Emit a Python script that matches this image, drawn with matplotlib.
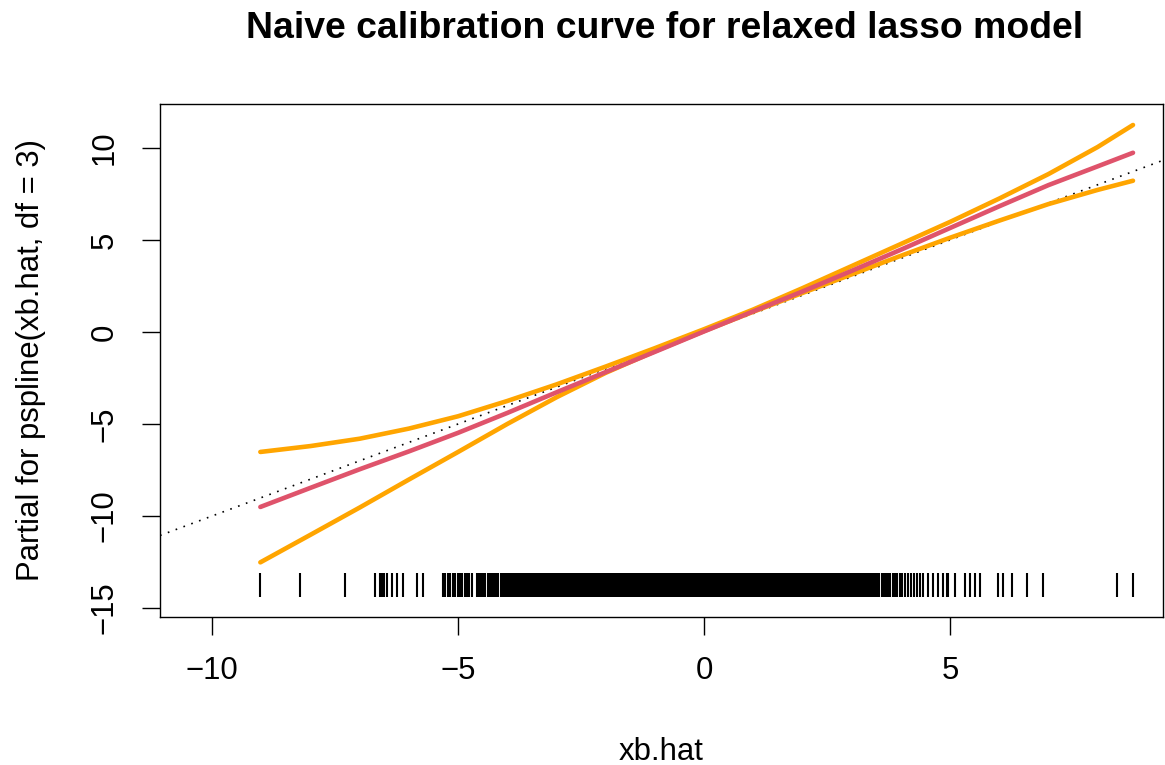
import numpy as np
import matplotlib
matplotlib.use("Agg")
import matplotlib.pyplot as plt

plt.rcParams["font.family"] = ["Liberation Sans", "DejaVu Sans"]

# fitted partial (pspline, df = 3) and its +/- 2 SE band
xb = [-9.02, -8.0, -7.0, -6.0, -5.0, -4.0, -3.0, -2.0, -1.0, 0.0,
      1.0, 2.0, 3.0, 4.0, 5.0, 6.0, 7.0, 8.0, 8.72]
fit = [-9.51, -8.47, -7.46, -6.49, -5.48, -4.40, -3.28, -2.18, -1.08, 0.03,
       1.12, 2.20, 3.32, 4.47, 5.65, 6.83, 7.98, 9.00, 9.74]
upper = [-6.52, -6.20, -5.80, -5.25, -4.58, -3.75, -2.85, -1.88, -0.88, 0.15,
         1.22, 2.38, 3.58, 4.78, 5.98, 7.25, 8.58, 10.05, 11.25]
lower = [-12.52, -11.02, -9.54, -8.02, -6.52, -5.00, -3.55, -2.22, -1.05, 0.05,
         1.10, 2.12, 3.13, 4.14, 5.12, 6.05, 6.95, 7.72, 8.22]

# observed xb.hat values shown as the rug
rug_x = [
    -9.02, -8.21, -7.30, -6.69, -6.59, -6.54, -6.50, -6.44, -6.34, -6.24, -6.12,
    -5.83, -5.71,
    -5.30, -5.26, -5.21, -5.17, -5.11, -5.06, -5.01, -4.97, -4.92, -4.86, -4.82,
    -4.77, -4.71, -4.62, -4.58, -4.53, -4.49, -4.45, -4.40, -4.35, -4.31, -4.27,
    -4.22, -4.18, -4.13, -4.09, -4.05, -4.01,
    -3.97, -3.93, -3.89, -3.85, -3.81, -3.77, -3.73, -3.69, -3.65, -3.61,
    -3.57, -3.53, -3.49, -3.45, -3.41, -3.37, -3.33, -3.29, -3.25, -3.21,
    -3.17, -3.13, -3.09, -3.05, -3.01, -2.97, -2.93, -2.89, -2.85, -2.81,
    -2.77, -2.73, -2.69, -2.65, -2.61, -2.57, -2.53, -2.49, -2.45, -2.41,
    -2.37, -2.33, -2.29, -2.25, -2.21, -2.17, -2.13, -2.09, -2.05, -2.01,
    -1.97, -1.93, -1.89, -1.85, -1.81, -1.77, -1.73, -1.69, -1.65, -1.61,
    -1.57, -1.53, -1.49, -1.45, -1.41, -1.37, -1.33, -1.29, -1.25, -1.21,
    -1.17, -1.13, -1.09, -1.05, -1.01, -0.97, -0.93, -0.89, -0.85, -0.81,
    -0.77, -0.73, -0.69, -0.65, -0.61, -0.57, -0.53, -0.49, -0.45, -0.41,
    -0.37, -0.33, -0.29, -0.25, -0.21, -0.17, -0.13, -0.09, -0.05, -0.01,
    0.03, 0.07, 0.11, 0.15, 0.19, 0.23, 0.27, 0.31, 0.35, 0.39,
    0.43, 0.47, 0.51, 0.55, 0.59, 0.63, 0.67, 0.71, 0.75, 0.79,
    0.83, 0.87, 0.91, 0.95, 0.99, 1.03, 1.07, 1.11, 1.15, 1.19,
    1.23, 1.27, 1.31, 1.35, 1.39, 1.43, 1.47, 1.51, 1.55, 1.59,
    1.63, 1.67, 1.71, 1.75, 1.79, 1.83, 1.87, 1.91, 1.95, 1.99,
    2.03, 2.07, 2.11, 2.15, 2.19, 2.23, 2.27, 2.31, 2.35, 2.39,
    2.43, 2.47, 2.51, 2.55, 2.59, 2.63, 2.67, 2.71, 2.75, 2.79,
    2.83, 2.87, 2.91, 2.95, 2.99, 3.03, 3.07, 3.11, 3.15, 3.19,
    3.23, 3.27, 3.31, 3.35, 3.39, 3.43, 3.47,
    3.52, 3.56, 3.61, 3.65, 3.70, 3.74, 3.79, 3.84, 3.88, 3.93, 3.98, 4.03,
    4.08, 4.14, 4.20, 4.26, 4.32, 4.38,
    4.45, 4.55, 4.65, 4.76, 4.86, 4.94, 4.96, 5.10, 5.30, 5.41, 5.51, 5.61,
    5.98, 6.08, 6.26, 6.57, 6.89, 8.39, 8.72,
]

xticks = [-10, -5, 0, 5]
yticks = [-15, -10, -5, 0, 5, 10]

RED = "#DF536B"
ORANGE = "#FFA500"
FS = 22.4

fig = plt.figure(figsize=(11.65, 7.65), dpi=100)
ax = fig.add_axes([160 / 1165, 148 / 765, 1003 / 1165, 513 / 765])

ax.axline((0, 0), slope=1, color="black", lw=1.2, linestyle=(0, (1, 4)))
ax.plot(xb, upper, color=ORANGE, lw=3.3, solid_capstyle="round")
ax.plot(xb, lower, color=ORANGE, lw=3.3, solid_capstyle="round")
ax.plot(xb, fit, color=RED, lw=3.3, solid_capstyle="round")
ax.vlines(rug_x, -14.42, -13.08, color="black", lw=1.5)

ax.set_xlim(-11.06, 9.33)
ax.set_ylim(-15.49, 12.39)
ax.set_xticks(xticks)
ax.set_yticks(yticks)
ax.set_xticklabels([str(v).replace("-", "\u2212") for v in xticks])
ax.set_yticklabels([str(v).replace("-", "\u2212") for v in yticks],
                   rotation=90, va="center")
ax.tick_params(direction="out", length=13, width=1.0, labelsize=FS)
ax.tick_params(axis="x", pad=15)
ax.tick_params(axis="y", pad=16)
for s in ax.spines.values():
    s.set_linewidth(1.0)

fig.text(661.5 / 1165, 1 - 752 / 765, "xb.hat", fontsize=FS,
         ha="center", va="center")
fig.text(31 / 1165, 1 - 360 / 765, "Partial for pspline(xb.hat, df = 3)",
         fontsize=FS, rotation=90, ha="center", va="center")
fig.text(665 / 1165, 1 - 28 / 765, "Naive calibration curve for relaxed lasso model",
         fontsize=FS * 1.2, fontweight="bold", ha="center", va="center")

fig.savefig("out.png", dpi=100)
